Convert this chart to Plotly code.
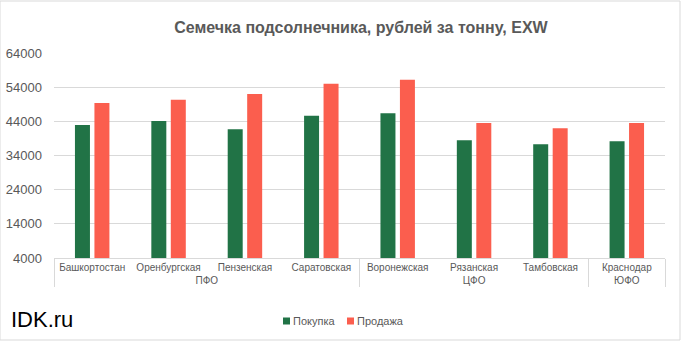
import plotly.graph_objects as go

groups = ["ПФО", "ПФО", "ПФО", "ПФО", "ЦФО", "ЦФО", "ЦФО", "ЮФО"]
regions = ["Башкортостан", "Оренбургская", "Пензенская", "Саратовская",
           "Воронежская", "Рязанская", "Тамбовская", "Краснодар"]
buy = [42900, 44100, 41700, 45600, 46400, 38500, 37300, 38200]
sell = [49400, 50300, 52000, 55000, 56200, 43500, 42000, 43500]
y_ticks = [4000, 14000, 24000, 34000, 44000, 54000, 64000]
series_names = ["Покупка", "Продажа"]

GREEN = "#217346"
RED = "#FB5E4E"
GRAY = "#595959"
FONT = "Liberation Sans"

fig = go.Figure()
fig.add_trace(go.Bar(x=[groups, regions], y=buy, name=series_names[0],
                     marker_color=GREEN, marker_line_width=0))
fig.add_trace(go.Bar(x=[groups, regions], y=sell, name=series_names[1],
                     marker_color=RED, marker_line_width=0))

fig.update_layout(
    width=681, height=341,
    margin=dict(l=54, r=16, t=53, b=83),
    paper_bgcolor="white", plot_bgcolor="white",
    barmode="group", bargap=0.49, bargroupgap=0.23,
    font=dict(family=FONT, color=GRAY, size=10),
    title=dict(text="<b>Семечка подсолнечника, рублей за тонну, EXW</b>",
               x=0.53, xanchor="center", y=0.92, yanchor="middle",
               font=dict(size=16, color=GRAY, family=FONT)),
    showlegend=False,
)
fig.update_yaxes(range=[4000, 64000], tickvals=y_ticks,
                 ticktext=[str(v) for v in y_ticks],
                 showgrid=True, gridcolor="#D9D9D9", gridwidth=1,
                 zeroline=False, showline=False, automargin=False,
                 tickfont=dict(size=13, color=GRAY, family=FONT),
                 ticks="", ticklabelstandoff=11)
fig.update_xaxes(type="multicategory", showline=True, linecolor="#D9D9D9",
                 linewidth=1, showdividers=True, dividercolor="#D9D9D9",
                 dividerwidth=1, tickfont=dict(size=10, color=GRAY, family=FONT),
                 ticks="", automargin=False)

# legend (drawn manually to match the compact Excel style)
leg_y = -63 / 205
sq_h = 3.5 / 205
for (x0, x1, tx), name, col in zip([(0.3748, 0.3863, 0.3875), (0.4795, 0.491, 0.4925)],
                                   series_names, [GREEN, RED]):
    fig.add_shape(type="rect", xref="paper", yref="paper", x0=x0, x1=x1,
                  y0=leg_y - sq_h, y1=leg_y + sq_h, fillcolor=col, line_width=0)
    fig.add_annotation(text=name, xref="paper", yref="paper", x=tx, y=leg_y,
                       xanchor="left", yanchor="middle", showarrow=False,
                       font=dict(size=11, color=GRAY, family=FONT))

fig.add_annotation(text="IDK.ru", xref="paper", yref="paper", x=-45/611, y=-61/205,
                   xanchor="left", yanchor="middle", showarrow=False,
                   font=dict(size=22, color="black", family=FONT))
fig.add_shape(type="rect", xref="paper", yref="paper",
              x0=-54/611, x1=1+15/611, y0=-82/205, y1=1+52/205,
              line=dict(color="#D9D9D9", width=1))

fig.write_html("out.html")
